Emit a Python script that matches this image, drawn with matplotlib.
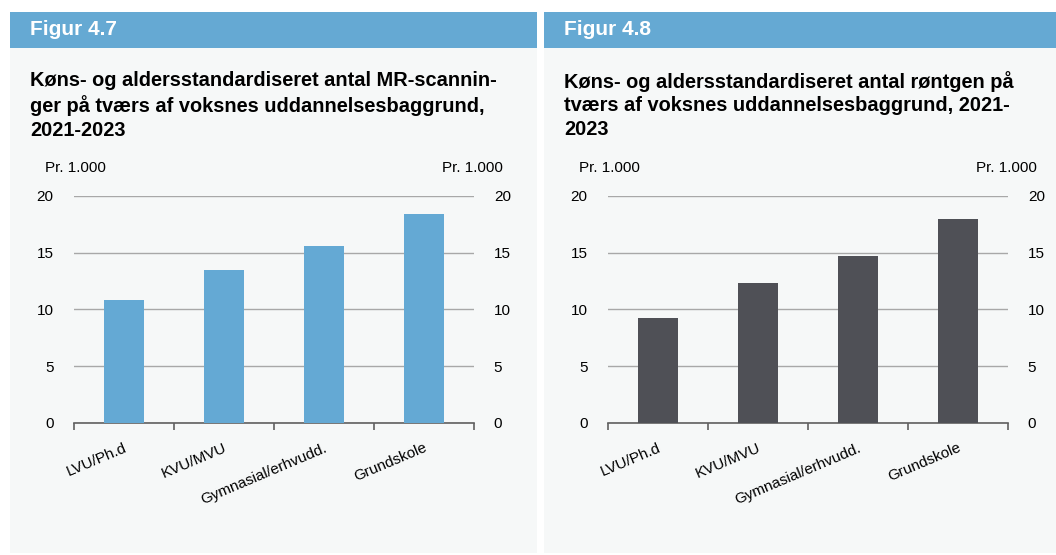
import matplotlib.pyplot as plt
from matplotlib.patches import Rectangle

plt.rcParams['font.family'] = ['Liberation Sans', 'DejaVu Sans']

categories = ['LVU/Ph.d', 'KVU/MVU', 'Gymnasial/erhvudd.', 'Grundskole']
mr_values = [10.8, 13.5, 15.6, 18.4]
xray_values = [9.2, 12.3, 14.7, 18.0]
yticks = [0, 5, 10, 15, 20]
unit_label = 'Pr. 1.000'

panels = [
    ('Figur 4.7',
     'Køns- og aldersstandardiseret antal MR-scannin-\nger på tværs af voksnes uddannelsesbaggrund,\n2021-2023',
     mr_values, '#64a9d4'),
    ('Figur 4.8',
     'Køns- og aldersstandardiseret antal røntgen på\ntværs af voksnes uddannelsesbaggrund, 2021-\n2023',
     xray_values, '#4f5056'),
]

W, H = 1056, 555
fig = plt.figure(figsize=(W / 100, H / 100), dpi=100)
fig.patch.set_facecolor('white')


def px(x, y):
    # pixel coords (from top-left) to figure fraction
    return x / W, 1 - y / H


for i, (head, title, values, color) in enumerate(panels):
    off = i * 534
    # panel background and header bar
    fig.patches.append(Rectangle(px(10 + off, 553), 527 / W, 541 / H,
                                 transform=fig.transFigure, facecolor='#f6f8f8',
                                 edgecolor='none', zorder=-10))
    fig.patches.append(Rectangle(px(10 + off, 48), 527 / W, 36 / H,
                                 transform=fig.transFigure, facecolor='#65a9d3',
                                 edgecolor='none', zorder=-10))
    fig.text(*px(30 + off, 29.5), head, color='white', fontsize=15,
             fontweight='bold', va='center', ha='left')
    fig.text(*px(30 + off, 71), title, color='black', fontsize=14.4,
             fontweight='bold', va='top', ha='left', linespacing=1.3)

    l, b = px(73.7 + off, 422.7)
    ax = fig.add_axes([l, b, 400 / W, 226.7 / H])
    ax.set_facecolor('none')
    xs = [k + 0.5 for k in range(len(categories))]
    ax.bar(xs, values, width=0.4, color=color, zorder=3)
    ax.set_xlim(0, len(categories))
    ax.set_ylim(0, 20)
    ax.set_yticks(yticks)
    ax.yaxis.grid(True, color='#a8a8a8', linewidth=1)
    ax.set_axisbelow(True)
    for s in ['left', 'right', 'top']:
        ax.spines[s].set_visible(False)
    ax.spines['bottom'].set_color('#606060')
    ax.spines['bottom'].set_linewidth(1.2)
    ax.tick_params(axis='y', left=False, right=False, labelleft=True,
                   labelright=True, labelsize=11, pad=11)
    ax.set_xticks(xs)
    ax.set_xticklabels(categories, rotation=23, ha='right',
                       rotation_mode='anchor', fontsize=11)
    ax.set_xticks(range(len(categories) + 1), minor=True)
    ax.tick_params(axis='x', which='major', length=0, pad=13)
    ax.tick_params(axis='x', which='minor', length=5, color='#606060', width=1.2)
    fig.text(*px(45 + off, 168), unit_label, fontsize=11, ha='left', va='center')
    fig.text(*px(503 + off, 168), unit_label, fontsize=11, ha='right', va='center')

fig.savefig('out.png', dpi=100)
